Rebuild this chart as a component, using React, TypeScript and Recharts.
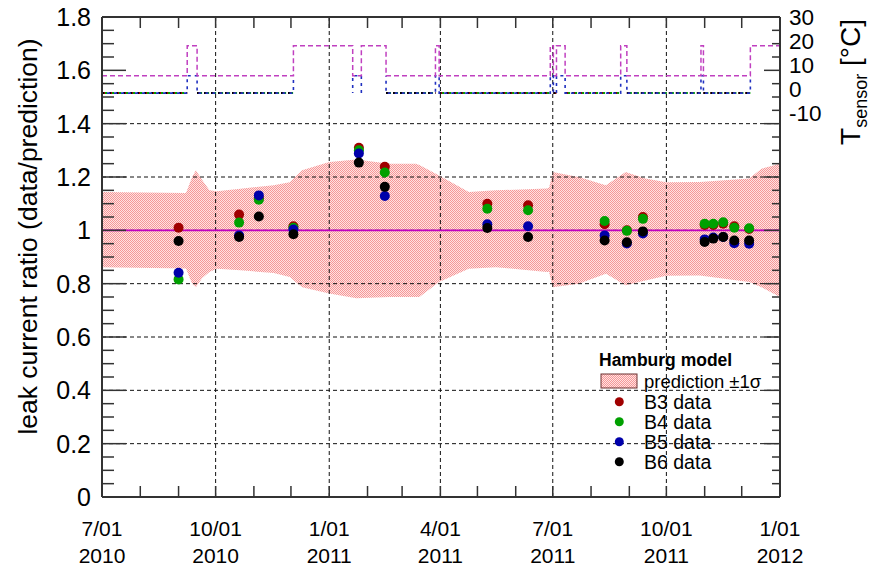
import React from 'react';
import { ComposedChart, Area, Line, Scatter, XAxis, YAxis, ReferenceLine, Legend } from 'recharts';

// ---------- data ----------
// x values are days since 2010-07-01
const MONTH_DAYS = [0, 31, 62, 92, 123, 153, 184, 215, 243, 274, 304, 335, 365, 396, 427, 457, 488, 518, 549];
const MAJOR_DAYS = [0, 92, 184, 274, 365, 457, 549];
const MAJOR_LABELS = [
  ['7/01', '2010'], ['10/01', '2010'], ['1/01', '2011'], ['4/01', '2011'],
  ['7/01', '2011'], ['10/01', '2011'], ['1/01', '2012'],
];
const Y_TICKS = Array.from({ length: 37 }, (_, i) => Math.round(i * 5) / 100);
const Y_GRID = [0.2, 0.4, 0.6, 0.8, 1.0, 1.2, 1.4];
const T_TICKS = [30, 20, 10, 0, -10];

const BAND_DAYS = [0, 68, 73, 76, 81, 87, 93, 112, 139, 152, 162, 184, 206, 233, 254, 257, 273, 297, 319, 360, 362, 365, 386, 408, 424, 440, 457, 484, 524, 534, 549];
const BAND_HIGH = [1.144, 1.14, 1.2, 1.225, 1.19, 1.15, 1.147, 1.156, 1.169, 1.18, 1.225, 1.256, 1.266, 1.25, 1.25, 1.245, 1.206, 1.144, 1.15, 1.157, 1.16, 1.219, 1.2, 1.169, 1.219, 1.194, 1.18, 1.181, 1.194, 1.231, 1.25];
const BAND_LOW = [0.862, 0.857, 0.8, 0.787, 0.82, 0.844, 0.856, 0.85, 0.84, 0.825, 0.787, 0.763, 0.745, 0.75, 0.75, 0.75, 0.806, 0.856, 0.862, 0.844, 0.844, 0.787, 0.8, 0.837, 0.794, 0.812, 0.83, 0.831, 0.806, 0.787, 0.75];

const DATA_DAYS = [62, 111, 127, 155, 208, 229, 312, 345, 407, 425, 438, 488, 495, 503, 512, 524];
const B3 = [1.01, 1.059, 1.12, 1.015, 1.31, 1.238, 1.1, 1.094, 1.023, 1.0, 1.05, 1.02, 1.02, 1.025, 1.015, 1.005];
const B4 = [0.816, 1.029, 1.115, 1.01, 1.3, 1.217, 1.081, 1.075, 1.035, 0.998, 1.043, 1.025, 1.025, 1.03, 1.01, 1.008];
const B5 = [0.841, 0.981, 1.131, 1.003, 1.288, 1.129, 1.023, 1.015, 0.981, 0.951, 0.988, 0.966, 0.973, 0.975, 0.952, 0.95];
const B6 = [0.96, 0.975, 1.052, 0.985, 1.254, 1.163, 1.009, 0.975, 0.962, 0.955, 0.996, 0.956, 0.969, 0.975, 0.962, 0.962];

// sensor temperatures (°C), step-wise
const T_MAG_DAYS = [0, 69, 77, 155, 203, 210, 230, 270, 273, 363, 365.5, 368, 375, 420, 425, 485, 487, 525, 549];
const T_MAG = [5.5, 18, 5.5, 18, 5.5, 18, 5.5, 18, 5.5, 18, 5.5, 18, 5.5, 18, 5.5, 18, 5.5, 18, 18];
const T_BLUE_DAYS = [0, 69, 77, 155, 155.5, 203, 203, 210, 210.5, 230, 230, 270, 273, 363, 365.5, 368, 375, 420, 425, 485, 487, 525, 525.5];
const T_BLUE = [-1.7, 5.5, -1.7, 5.5, null, -1.7, 5.5, -1.7, null, 5.5, -1.7, 5.5, -1.7, 5.5, -1.7, 5.5, -1.7, 5.5, -1.7, 5.5, -1.7, 5.5, null];
const T_LOW_DAYS = [0, 69, 69.5, 77, 155, 155.5, 230, 270, 270.5, 273, 363, 363.5, 365.5, 368, 368.5, 375, 420, 420.5, 425, 485, 485.5, 487, 525, 525.5];
const T_LOW = [-1.7, -1.7, null, -1.7, -1.7, null, -1.7, -1.7, null, -1.7, -1.7, null, -1.7, -1.7, null, -1.7, -1.7, null, -1.7, -1.7, null, -1.7, -1.7, null];

// ---------- derived tables ----------
const bandData = BAND_DAYS.map((d, i) => ({ day: d, range: [BAND_LOW[i], BAND_HIGH[i]] }));
const pts = (arr: number[]) => DATA_DAYS.map((d, i) => ({ day: d, ratio: arr[i] }));
const tSeries = (days: number[], vals: (number | null)[]) => days.map((d, i) => ({ day: d, t: vals[i] }));
const tMag = tSeries(T_MAG_DAYS, T_MAG);
const tBlue = tSeries(T_BLUE_DAYS, T_BLUE);
const tLow = tSeries(T_LOW_DAYS, T_LOW);

// ---------- layout ----------
const W = 877;
const H = 567;
const M_TOP = 17;
const Y_LEFT_W = 102;
const Y_RIGHT_W = 97;
const X_H = 70;
const PL = Y_LEFT_W;
const PR = W - Y_RIGHT_W;
const PT = M_TOP;
const PB = H - X_H;
const FRAME = '#333';
const FONT = '"Liberation Sans", Arial, Helvetica, sans-serif';

const C_B3 = '#a00000';
const C_B4 = '#00a000';
const C_B5 = '#0000aa';
const C_B6 = '#000000';
const C_MAG = '#c000c0';

const XTick = (props: any) => {
  const { x, payload } = props;
  const idx = MAJOR_DAYS.indexOf(payload.value);
  return (
    <g>
      <line x1={x} x2={x} y1={PB} y2={PB - 11} stroke={FRAME} strokeWidth={1.5} />
      <line x1={x} x2={x} y1={PT} y2={PT + 11} stroke={FRAME} strokeWidth={1.5} />
      {idx >= 0 && (
        <text x={x} y={PB + 38.5} textAnchor="middle" fontSize={21} fontFamily={FONT} fill="#000">
          <tspan x={x}>{MAJOR_LABELS[idx][0]}</tspan>
          <tspan x={x} dy={27}>{MAJOR_LABELS[idx][1]}</tspan>
        </text>
      )}
    </g>
  );
};

const YTick = (props: any) => {
  const { y, payload } = props;
  const v = payload.value;
  const major = Math.round(v * 100) % 20 === 0;
  return (
    <g>
      <line x1={PL} x2={PL + (major ? 24 : 12)} y1={y} y2={y} stroke={FRAME} strokeWidth={1.5} />
      <line x1={PR} x2={PR - (major ? 16 : 8)} y1={y} y2={y} stroke={FRAME} strokeWidth={1.5} />
      {major && (
        <text x={PL - 11} y={y + 9} textAnchor="end" fontSize={25} fontFamily={FONT} fill="#000">
          {String(Number(v.toFixed(1)))}
        </text>
      )}
    </g>
  );
};

const TTick = (props: any) => {
  const { y, payload } = props;
  return (
    <text x={PR + 9} y={y + 8} textAnchor="start" fontSize={22.5} fontFamily={FONT} fill="#000">
      {String(payload.value)}
    </text>
  );
};

const YTitle = () => (
  <text transform="translate(36.7, 236.5) rotate(-90)" textAnchor="middle" fontSize={26.5} fontFamily={FONT} fill="#000">
    leak current ratio (data/prediction)
  </text>
);

const TTitle = () => (
  <text transform="translate(860, 82) rotate(-90)" textAnchor="middle" fontFamily={FONT} fill="#000">
    <tspan fontSize={28}>T</tspan>
    <tspan fontSize={18} dy={7}>sensor</tspan>
    <tspan fontSize={28} dy={-7}>{'  [°C]'}</tspan>
  </text>
);

const LEGEND_ITEMS = [
  { name: 'B3 data', color: C_B3 },
  { name: 'B4 data', color: C_B4 },
  { name: 'B5 data', color: C_B5 },
  { name: 'B6 data', color: C_B6 },
];

const LegendBox = () => (
  <svg width={200} height={135} style={{ display: 'block' }}>
    <defs>
      <pattern id="hatchL" width="2" height="2" patternUnits="userSpaceOnUse">
        <rect width="2" height="2" fill="#ffe2e2" />
        <rect width="1" height="1" fill="#f59898" />
        <rect x="1" y="1" width="1" height="1" fill="#f59898" />
      </pattern>
    </defs>
    <text x={9} y={21} fontSize={17.5} fontWeight="bold" fontFamily={FONT} fill="#000">Hamburg model</text>
    <rect x={11} y={29} width={36} height={14} fill="url(#hatchL)" stroke="#6b3030" strokeWidth={1} />
    <text x={54} y={36} dominantBaseline="central" fontSize={18.5} fontFamily={FONT} fill="#000">prediction ±1σ</text>
    {LEGEND_ITEMS.map((it, i) => (
      <g key={it.name}>
        <circle cx={29.3} cy={56.7 + i * 20} r={4.5} fill={it.color} />
        <text x={54} y={56.7 + i * 20} dominantBaseline="central" fontSize={19.5} fontFamily={FONT} fill="#000">{it.name}</text>
      </g>
    ))}
  </svg>
);

const dot = (color: string) => (p: any) => <circle cx={p.cx} cy={p.cy} r={5} fill={color} />;

export default function App() {
  return (
    <div style={{ position: 'absolute', left: 0, top: 0, width: W, height: H, background: '#fff' }}>
      <ComposedChart width={W} height={H} margin={{ top: M_TOP, right: 0, bottom: 0, left: 0 }}>
        <defs>
          <pattern id="hatch" width="2" height="2" patternUnits="userSpaceOnUse">
            <rect width="2" height="2" fill="#ffe2e2" />
            <rect width="1" height="1" fill="#f59898" />
            <rect x="1" y="1" width="1" height="1" fill="#f59898" />
          </pattern>
        </defs>
        <XAxis
          dataKey="day"
          type="number"
          domain={[0, 549]}
          ticks={MONTH_DAYS}
          interval={0}
          tick={XTick}
          tickLine={false}
          axisLine={{ stroke: FRAME, strokeWidth: 2 }}
          height={X_H}
          allowDataOverflow
        />
        <YAxis
          yAxisId="L"
          orientation="left"
          type="number"
          width={Y_LEFT_W}
          domain={[0, 1.8]}
          ticks={Y_TICKS}
          interval={0}
          tick={YTick}
          tickLine={false}
          axisLine={{ stroke: FRAME, strokeWidth: 2 }}
          allowDataOverflow
          label={<YTitle />}
        />
        <YAxis
          yAxisId="R"
          orientation="right"
          type="number"
          width={Y_RIGHT_W}
          domain={[-170, 30]}
          ticks={T_TICKS}
          interval={0}
          tick={TTick}
          tickLine={false}
          axisLine={{ stroke: FRAME, strokeWidth: 2 }}
          allowDataOverflow
          label={<TTitle />}
        />

        <Area
          yAxisId="L"
          data={bandData}
          dataKey="range"
          type="linear"
          stroke="none"
          fill="url(#hatch)"
          fillOpacity={1}
          isAnimationActive={false}
          legendType="none"
        />

        {Y_GRID.map((v) => (
          <ReferenceLine key={'h' + v} yAxisId="L" y={v} stroke="#111" strokeWidth={1} strokeDasharray="4 3" />
        ))}
        {MAJOR_DAYS.slice(1, -1).map((d) => (
          <ReferenceLine key={'v' + d} yAxisId="L" x={d} stroke="#111" strokeWidth={1} strokeDasharray="4 3" />
        ))}
        <ReferenceLine yAxisId="L" y={1.8} stroke={FRAME} strokeWidth={2} />
        <ReferenceLine yAxisId="L" y={1.0} stroke={C_MAG} strokeWidth={1.6} />

        <Line yAxisId="R" data={tLow} dataKey="t" type="stepAfter" stroke={C_B3} strokeWidth={2} strokeDasharray="4 3" strokeDashoffset={0} dot={false} isAnimationActive={false} legendType="none" />
        <Line yAxisId="R" data={tLow} dataKey="t" type="stepAfter" stroke={C_B4} strokeWidth={2} strokeDasharray="2 5" strokeDashoffset={-3} dot={false} isAnimationActive={false} legendType="none" />
        <Line yAxisId="R" data={tLow} dataKey="t" type="stepAfter" stroke={C_B6} strokeWidth={2} strokeDasharray="2 5" strokeDashoffset={0} dot={false} isAnimationActive={false} legendType="none" />
        <Line yAxisId="R" data={tBlue} dataKey="t" type="stepAfter" stroke="#2030c0" strokeWidth={1.6} strokeDasharray="3 4" strokeDashoffset={2} dot={false} isAnimationActive={false} legendType="none" />
        <Line yAxisId="R" data={tMag} dataKey="t" type="stepAfter" stroke="#c040c0" strokeWidth={1.5} strokeDasharray="5 3" dot={false} isAnimationActive={false} legendType="none" />

        <Scatter yAxisId="L" data={pts(B3)} dataKey="ratio" shape={dot(C_B3)} isAnimationActive={false} legendType="none" />
        <Scatter yAxisId="L" data={pts(B4)} dataKey="ratio" shape={dot(C_B4)} isAnimationActive={false} legendType="none" />
        <Scatter yAxisId="L" data={pts(B5)} dataKey="ratio" shape={dot(C_B5)} isAnimationActive={false} legendType="none" />
        <Scatter yAxisId="L" data={pts(B6)} dataKey="ratio" shape={dot(C_B6)} isAnimationActive={false} legendType="none" />

        <Legend
          layout="vertical"
          align="center"
          verticalAlign="middle"
          content={() => <LegendBox />}
          wrapperStyle={{ left: 590, top: 345, width: 200, height: 135 }}
        />
      </ComposedChart>
    </div>
  );
}
